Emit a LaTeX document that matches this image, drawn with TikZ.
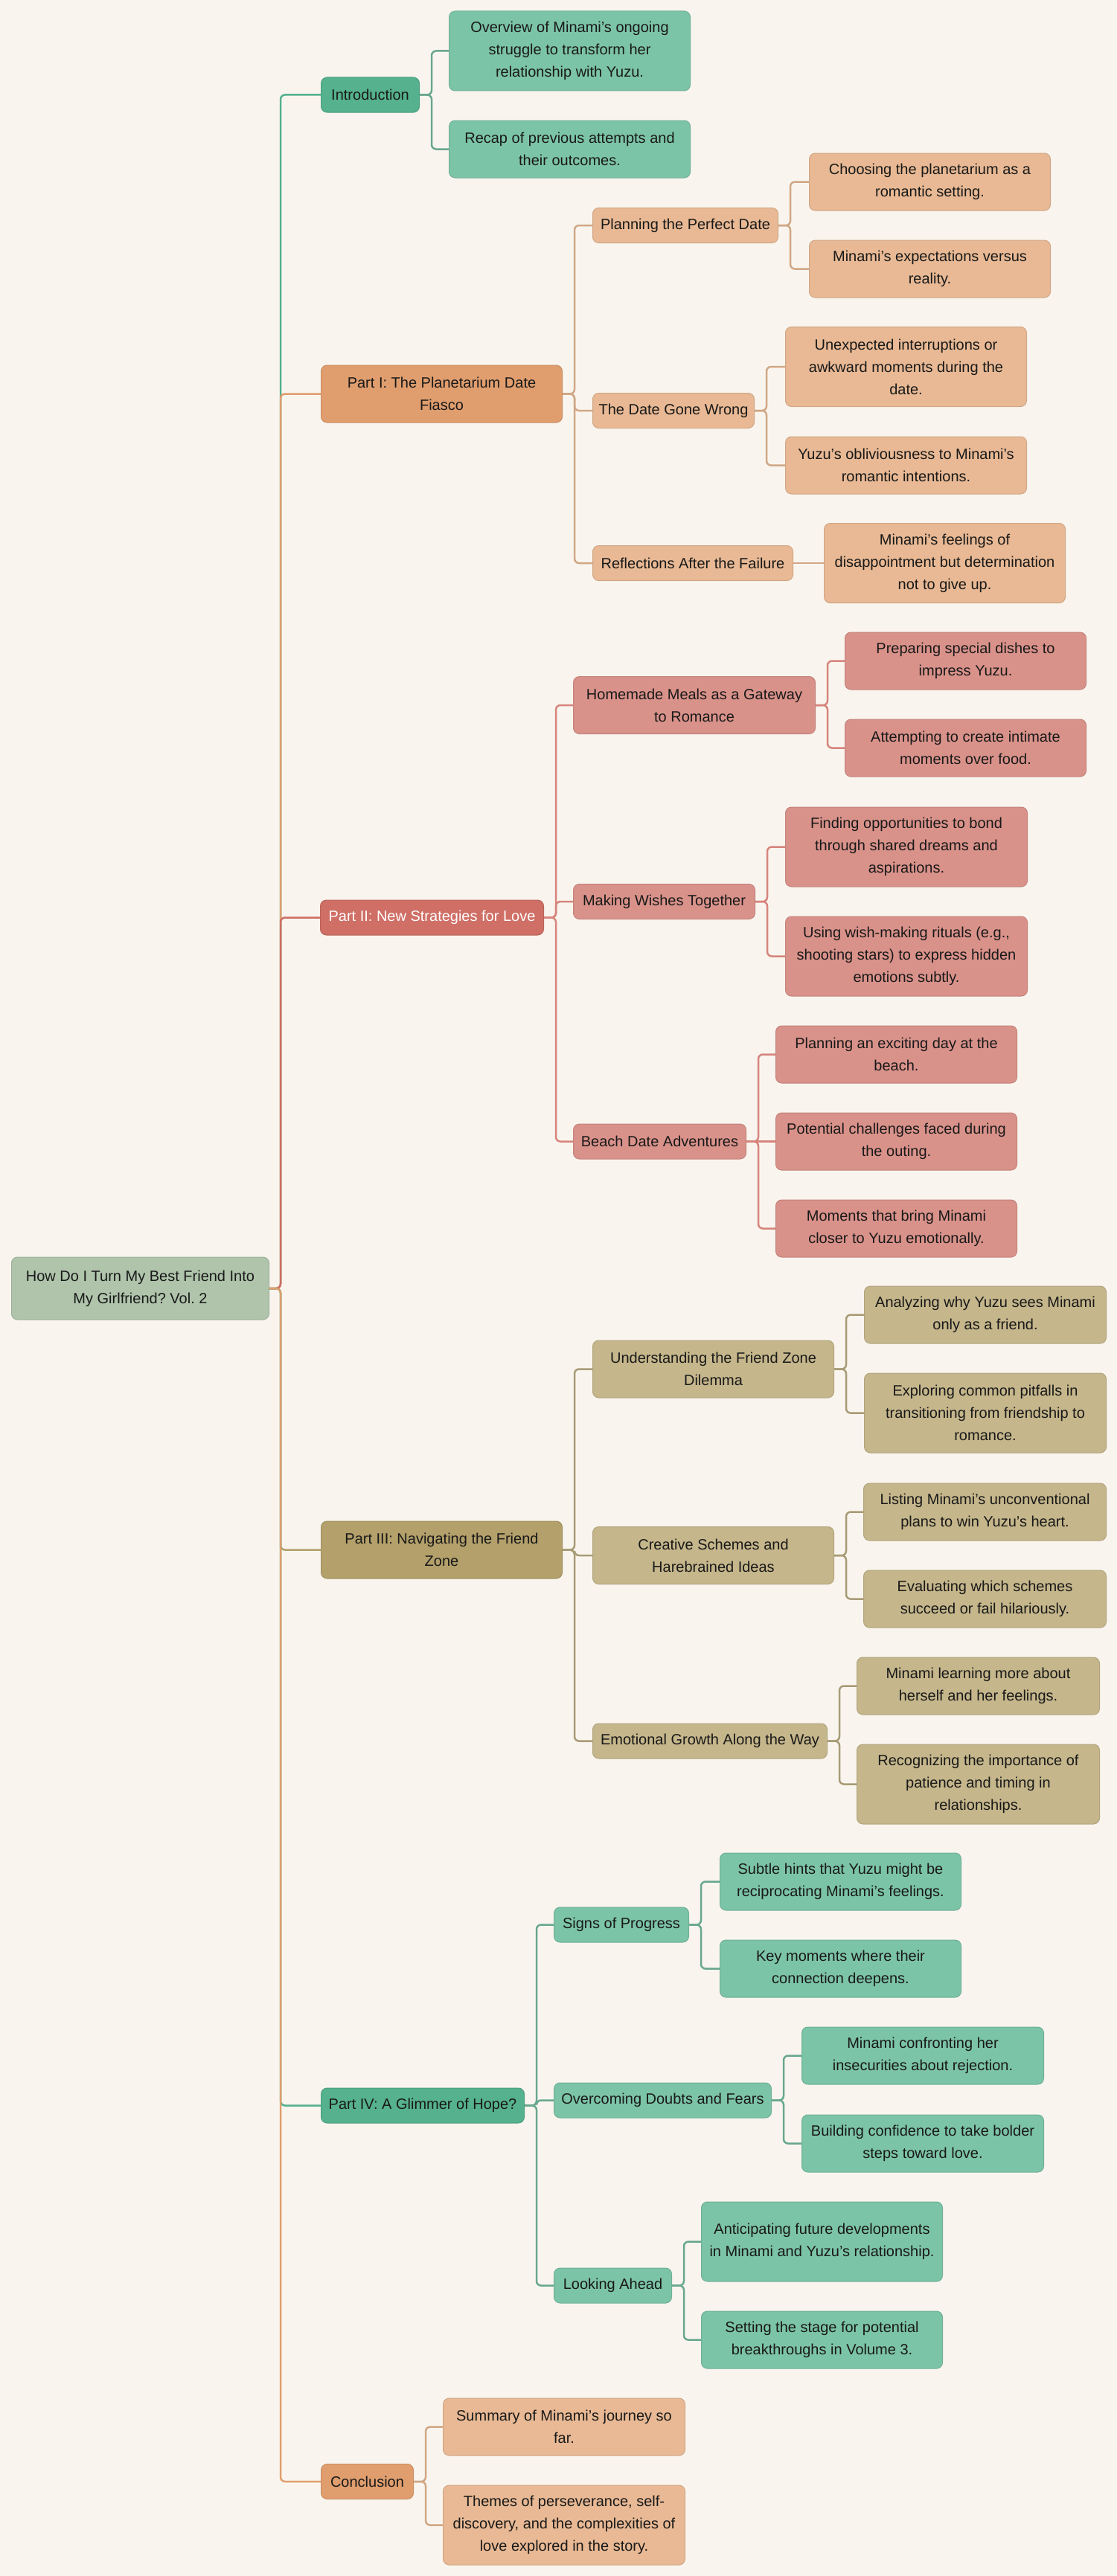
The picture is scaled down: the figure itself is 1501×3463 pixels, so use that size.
\documentclass[tikz,border=0pt]{standalone}
\usepackage{fontspec}
\setmainfont{Liberation Sans}
\frenchspacing
\definecolor{paper}{HTML}{F9F5EE}
\definecolor{rootc}{HTML}{AFC4AB}
\definecolor{greenA}{HTML}{55B18E}
\definecolor{greenB}{HTML}{7CC4A8}
\definecolor{orangeA}{HTML}{E09E6E}
\definecolor{orangeB}{HTML}{E8B994}
\definecolor{redA}{HTML}{CF6F66}
\definecolor{redB}{HTML}{D9928A}
\definecolor{oliveA}{HTML}{B3A06A}
\definecolor{oliveB}{HTML}{C5B68B}
\begin{document}
\begin{tikzpicture}[x=1pt,y=-1pt,
  box/.style={rounded corners=8pt, draw, line width=1pt, align=center, anchor=west,
    inner xsep=4pt, inner ysep=0pt, text=black!90, font=\fontsize{20}{30}\selectfont},
  rootbox/.style={box, fill=rootc, draw=rootc!90!black},
  greenone/.style={box, fill=greenA, draw=greenA!90!black},
  greentwo/.style={box, fill=greenB, draw=greenB!90!black},
  orangeone/.style={box, fill=orangeA, draw=orangeA!90!black},
  orangetwo/.style={box, fill=orangeB, draw=orangeB!90!black},
  redone/.style={box, fill=redA, draw=redA!90!black, text=white},
  redtwo/.style={box, fill=redB, draw=redB!90!black},
  oliveone/.style={box, fill=oliveA, draw=oliveA!90!black},
  olivetwo/.style={box, fill=oliveB, draw=oliveB!90!black},
  edge/.style={line width=2.5pt, rounded corners=6pt}]

  % background
  \fill[paper] (0,0) rectangle (1501,3463);
  \useasboundingbox (0,0) rectangle (1501,3463);

  % root
  \node[rootbox, minimum width=346pt, minimum height=84pt] (root) at (15,1732)
    {How Do I Turn My Best Friend Into\\My Girlfriend? Vol. 2};

  % introduction
  \node[greenone, minimum width=132pt, minimum height=47pt] (intro) at (431,127.5) {Introduction};
  \node[greentwo, minimum width=324pt, minimum height=107pt] (ov) at (603,68.5)
    {Overview of Minami's ongoing\\struggle to transform her\\relationship with Yuzu.};
  \node[greentwo, minimum width=324pt, minimum height=77pt] (rec) at (603,200.5)
    {Recap of previous attempts and\\their outcomes.};

  % part I
  \node[orangeone, minimum width=324pt, minimum height=77pt] (pone) at (431,529.5)
    {Part I: The Planetarium Date\\Fiasco};
  \node[orangetwo, minimum width=249pt, minimum height=47pt] (plan) at (796,303) {Planning the Perfect Date};
  \node[orangetwo, minimum width=324pt, minimum height=77pt] (cho) at (1087,244.5)
    {Choosing the planetarium as a\\romantic setting.};
  \node[orangetwo, minimum width=324pt, minimum height=77pt] (expec) at (1087,361.5)
    {Minami's expectations versus\\reality.};
  \node[orangetwo, minimum width=217pt, minimum height=47pt] (wrong) at (796,552) {The Date Gone Wrong};
  \node[orangetwo, minimum width=324pt, minimum height=107pt] (unex) at (1055,493)
    {Unexpected interruptions or\\awkward moments during the\\date.};
  \node[orangetwo, minimum width=324pt, minimum height=77pt] (obl) at (1055,625.5)
    {Yuzu's obliviousness to Minami's\\romantic intentions.};
  \node[orangetwo, minimum width=269pt, minimum height=47pt] (refl) at (796,757) {Reflections After the Failure};
  \node[orangetwo, minimum width=324pt, minimum height=107pt] (feel) at (1107,757)
    {Minami's feelings of\\disappointment but determination\\not to give up.};

  % part II
  \node[redone, minimum width=300pt, minimum height=47pt] (ptwo) at (430,1233.5) {Part II: New Strategies for Love};
  \node[redtwo, minimum width=325pt, minimum height=77pt] (meals) at (770,948)
    {Homemade Meals as a Gateway\\to Romance};
  \node[redtwo, minimum width=324pt, minimum height=77pt] (prep) at (1135,888.5)
    {Preparing special dishes to\\impress Yuzu.};
  \node[redtwo, minimum width=324pt, minimum height=77pt] (att) at (1135,1005.5)
    {Attempting to create intimate\\moments over food.};
  \node[redtwo, minimum width=244pt, minimum height=47pt] (wish) at (770,1212) {Making Wishes Together};
  \node[redtwo, minimum width=325pt, minimum height=107pt] (bond) at (1055,1138.5)
    {Finding opportunities to bond\\through shared dreams and\\aspirations.};
  \node[redtwo, minimum width=325pt, minimum height=107pt] (rit) at (1055,1285.5)
    {Using wish-making rituals (e.g.,\\shooting stars) to express hidden\\emotions subtly.};
  \node[redtwo, minimum width=232pt, minimum height=47pt] (beach) at (770,1534.5) {Beach Date Adventures};
  \node[redtwo, minimum width=324pt, minimum height=77pt] (day) at (1042,1417.5)
    {Planning an exciting day at the\\beach.};
  \node[redtwo, minimum width=324pt, minimum height=77pt] (chal) at (1042,1534.5)
    {Potential challenges faced during\\the outing.};
  \node[redtwo, minimum width=324pt, minimum height=77pt] (closer) at (1042,1651.5)
    {Moments that bring Minami\\closer to Yuzu emotionally.};

  % part III
  \node[oliveone, minimum width=324pt, minimum height=77pt] (pthree) at (431,2083.5)
    {Part III: Navigating the Friend\\Zone};
  \node[olivetwo, minimum width=324pt, minimum height=77pt] (und) at (796,1840.5)
    {Understanding the Friend Zone\\Dilemma};
  \node[olivetwo, minimum width=325pt, minimum height=77pt] (ana) at (1161,1767.5)
    {Analyzing why Yuzu sees Minami\\only as a friend.};
  \node[olivetwo, minimum width=325pt, minimum height=107pt] (pit) at (1161,1899.5)
    {Exploring common pitfalls in\\transitioning from friendship to\\romance.};
  \node[olivetwo, minimum width=324pt, minimum height=77pt] (sch) at (796,2091)
    {Creative Schemes and\\Harebrained Ideas};
  \node[olivetwo, minimum width=326pt, minimum height=77pt] (lst) at (1160,2032.5)
    {Listing Minami's unconventional\\plans to win Yuzu's heart.};
  \node[olivetwo, minimum width=326pt, minimum height=77pt] (eva) at (1160,2149.5)
    {Evaluating which schemes\\succeed or fail hilariously.};
  \node[olivetwo, minimum width=315pt, minimum height=47pt] (grow) at (796,2340.5) {Emotional Growth Along the Way};
  \node[olivetwo, minimum width=326pt, minimum height=77pt] (herself) at (1151,2266.5)
    {Minami learning more about\\herself and her feelings.};
  \node[olivetwo, minimum width=326pt, minimum height=107pt] (pat) at (1151,2398.5)
    {Recognizing the importance of\\patience and timing in\\relationships.};

  % part IV
  \node[greenone, minimum width=273pt, minimum height=47pt] (pfour) at (431,2830.5) {Part IV: A Glimmer of Hope?};
  \node[greentwo, minimum width=181pt, minimum height=47pt] (sig) at (744,2587.5) {Signs of Progress};
  \node[greentwo, minimum width=324pt, minimum height=77pt] (hint) at (967,2529.5)
    {Subtle hints that Yuzu might be\\reciprocating Minami's feelings.};
  \node[greentwo, minimum width=324pt, minimum height=77pt] (keym) at (967,2646.5)
    {Key moments where their\\connection deepens.};
  \node[greentwo, minimum width=292pt, minimum height=47pt] (doubt) at (744,2823.5) {Overcoming Doubts and Fears};
  \node[greentwo, minimum width=325pt, minimum height=77pt] (insec) at (1077,2763.5)
    {Minami confronting her\\insecurities about rejection.};
  \node[greentwo, minimum width=325pt, minimum height=77pt] (bold) at (1077,2881.5)
    {Building confidence to take bolder\\steps toward love.};
  \node[greentwo, minimum width=158pt, minimum height=47pt] (ahead) at (744,3072.5) {Looking Ahead};
  \node[greentwo, minimum width=324pt, minimum height=107pt] (fut) at (942,3013.5)
    {Anticipating future developments\\in Minami and Yuzu's relationship.};
  \node[greentwo, minimum width=324pt, minimum height=77pt] (vol) at (942,3145.5)
    {Setting the stage for potential\\breakthroughs in Volume 3.};

  % conclusion
  \node[orangeone, minimum width=124pt, minimum height=47pt] (concl) at (431,3336) {Conclusion};
  \node[orangetwo, minimum width=325pt, minimum height=77pt] (summ) at (595,3262.5)
    {Summary of Minami's journey so\\far.};
  \node[orangetwo, minimum width=325pt, minimum height=107pt] (themes) at (595,3394.5)
    {Themes of perseverance, self-\\discovery, and the complexities of\\love explored in the story.};

  % trunk
  \draw[edge, greenA] (root.east) -- ++(15,0) |- (intro.west);
  \draw[edge, orangeA] (root.east) -- ++(15,0) |- (pone.west);
  \draw[edge, redA] (root.east) -- ++(15,0) |- (ptwo.west);
  \draw[edge, oliveA] (root.east) -- ++(15,0) |- (pthree.west);
  \draw[edge, greenA] (root.east) -- ++(15,0) |- (pfour.west);
  \draw[edge, orangeA] (root.east) -- ++(15,0) |- (concl.west);

  % branches
  \foreach \a/\b in {intro/ov, intro/rec, pfour/sig, pfour/doubt, pfour/ahead,
      sig/hint, sig/keym, doubt/insec, doubt/bold, ahead/fut, ahead/vol}
    \draw[edge, greenB!85!black] (\a.east) -- ++(16,0) |- (\b.west);
  \foreach \a/\b in {pone/plan, pone/wrong, pone/refl, plan/cho, plan/expec,
      wrong/unex, wrong/obl, concl/summ, concl/themes}
    \draw[edge, orangeB!90!black] (\a.east) -- ++(16,0) |- (\b.west);
  \draw[edge, orangeB!90!black] (refl.east) -- (feel.west);
  \foreach \a/\b in {ptwo/meals, ptwo/wish, ptwo/beach, meals/prep, meals/att,
      wish/bond, wish/rit, beach/day, beach/closer}
    \draw[edge, redA!85!white] (\a.east) -- ++(16,0) |- (\b.west);
  \draw[edge, redA!85!white] (beach.east) -- (chal.west);
  \foreach \a/\b in {pthree/und, pthree/sch, pthree/grow, und/ana, und/pit,
      sch/lst, sch/eva, grow/herself, grow/pat}
    \draw[edge, oliveB!85!black] (\a.east) -- ++(16,0) |- (\b.west);
\end{tikzpicture}
\end{document}
